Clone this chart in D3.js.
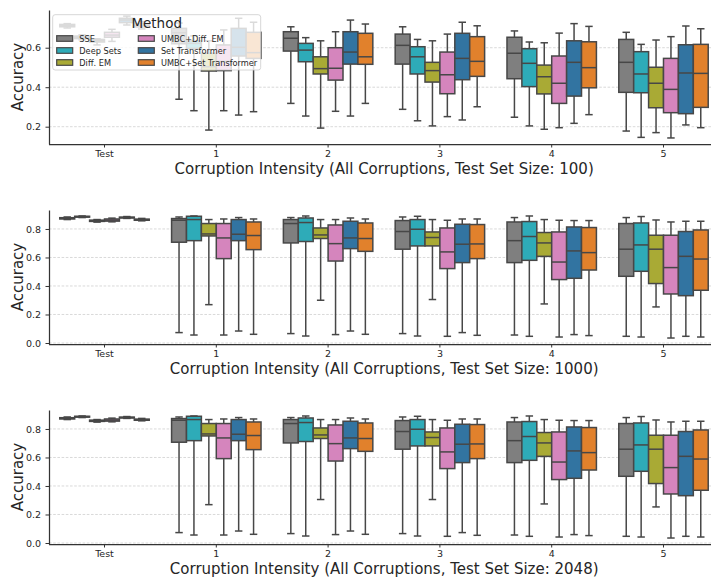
<!DOCTYPE html>
<html>
<head>
<meta charset="utf-8">
<script src="https://cdn.jsdelivr.net/npm/d3@7"></script>
<style>
  html, body { margin: 0; padding: 0; background: #fff; }
  svg { display: block; font-family: "DejaVu Sans", sans-serif; }
</style>
</head>
<body>
<svg id="chart" width="711" height="577"></svg>
<script>
// Categories on the x axis and the methods compared within each category
const categories = ["Test", "1", "2", "3", "4", "5"];
const methods = ["SSE", "Deep Sets", "Diff. EM", "UMBC+Diff. EM", "Set Transformer", "UMBC+Set Transformer"];
const baseColors = ["#7f7f7f", "#17becf", "#bcbd22", "#e377c2", "#1f77b4", "#ff7f0e"];
const testSetSizes = [100, 1000, 2048];
const yTicksSmall = [0.2, 0.4, 0.6];
const yTicksLarge = [0.0, 0.2, 0.4, 0.6, 0.8];

// Box statistics per category: [lower whisker, Q1, median, Q3, upper whisker]
// Test set size 100
const sse100 = [[0.700,0.706,0.712,0.718,0.722],[0.339,0.620,0.676,0.698,0.725],[0.318,0.583,0.648,0.681,0.706],[0.288,0.517,0.612,0.669,0.706],[0.248,0.443,0.572,0.653,0.685],[0.178,0.374,0.526,0.642,0.678]];
const deepSets100 = [[0.640,0.646,0.652,0.659,0.665],[0.281,0.597,0.622,0.635,0.660],[0.254,0.529,0.588,0.622,0.651],[0.230,0.467,0.554,0.605,0.642],[0.204,0.403,0.521,0.595,0.629],[0.146,0.372,0.467,0.580,0.617]];
const diffEM100 = [[0.614,0.629,0.636,0.642,0.645],[0.183,0.482,0.504,0.572,0.635],[0.193,0.467,0.494,0.554,0.635],[0.204,0.426,0.484,0.526,0.635],[0.187,0.366,0.453,0.512,0.625],[0.170,0.296,0.420,0.501,0.639]];
const umbcDiffEM100 = [[0.632,0.653,0.664,0.678,0.693],[0.281,0.484,0.530,0.614,0.690],[0.278,0.436,0.496,0.600,0.681],[0.251,0.367,0.463,0.578,0.669],[0.195,0.318,0.420,0.558,0.674],[0.143,0.271,0.389,0.546,0.656]];
const setTransformer100 = [[0.715,0.727,0.740,0.749,0.760],[0.259,0.558,0.602,0.698,0.749],[0.254,0.517,0.578,0.681,0.740],[0.234,0.438,0.546,0.673,0.729],[0.217,0.355,0.526,0.635,0.722],[0.209,0.266,0.472,0.615,0.710]];
const umbcSetTransformer100 = [[0.695,0.705,0.712,0.722,0.732],[0.276,0.546,0.575,0.678,0.729],[0.318,0.516,0.554,0.673,0.720],[0.301,0.455,0.531,0.656,0.711],[0.261,0.397,0.499,0.630,0.708],[0.195,0.298,0.470,0.617,0.696]];

// Test set size 1000
const sse1000 = [[0.866,0.870,0.875,0.879,0.884],[0.073,0.707,0.861,0.873,0.884],[0.066,0.702,0.838,0.866,0.880],[0.066,0.658,0.782,0.859,0.884],[0.056,0.564,0.718,0.849,0.880],[0.047,0.468,0.658,0.838,0.880]];
const deepSets1000 = [[0.880,0.883,0.886,0.889,0.891],[0.056,0.718,0.866,0.889,0.891],[0.049,0.712,0.845,0.877,0.891],[0.049,0.681,0.798,0.866,0.889],[0.047,0.580,0.747,0.852,0.891],[0.042,0.503,0.688,0.842,0.887]];
const diffEM1000 = [[0.848,0.853,0.857,0.862,0.866],[0.269,0.751,0.765,0.838,0.866],[0.300,0.733,0.758,0.807,0.866],[0.305,0.681,0.740,0.779,0.866],[0.274,0.608,0.702,0.775,0.866],[0.253,0.417,0.658,0.756,0.863]];
const umbcDiffEM1000 = [[0.850,0.855,0.862,0.870,0.876],[0.056,0.592,0.737,0.838,0.870],[0.059,0.575,0.697,0.828,0.866],[0.047,0.522,0.639,0.807,0.861],[0.042,0.445,0.568,0.779,0.861],[0.035,0.344,0.529,0.756,0.849]];
const setTransformer1000 = [[0.874,0.877,0.880,0.883,0.887],[0.084,0.718,0.763,0.866,0.880],[0.084,0.662,0.737,0.854,0.877],[0.073,0.564,0.693,0.833,0.870],[0.059,0.454,0.646,0.814,0.859],[0.047,0.332,0.608,0.782,0.854]];
const umbcSetTransformer1000 = [[0.857,0.861,0.865,0.869,0.874],[0.061,0.655,0.754,0.849,0.870],[0.061,0.643,0.733,0.842,0.870],[0.054,0.592,0.695,0.831,0.870],[0.052,0.512,0.634,0.810,0.859],[0.042,0.370,0.589,0.793,0.854]];

// Test set size 2048
const sse2048 = [[0.866,0.870,0.875,0.879,0.884],[0.073,0.707,0.861,0.873,0.884],[0.066,0.702,0.838,0.866,0.880],[0.066,0.658,0.782,0.859,0.884],[0.056,0.564,0.718,0.849,0.880],[0.047,0.468,0.658,0.838,0.880]];
const deepSets2048 = [[0.880,0.883,0.886,0.889,0.891],[0.056,0.718,0.866,0.889,0.891],[0.049,0.712,0.845,0.877,0.891],[0.049,0.681,0.798,0.866,0.889],[0.047,0.580,0.747,0.852,0.891],[0.042,0.503,0.688,0.842,0.887]];
const diffEM2048 = [[0.848,0.853,0.857,0.862,0.866],[0.269,0.751,0.765,0.838,0.866],[0.305,0.733,0.758,0.807,0.866],[0.305,0.681,0.740,0.779,0.866],[0.274,0.608,0.702,0.775,0.866],[0.253,0.417,0.658,0.756,0.863]];
const umbcDiffEM2048 = [[0.850,0.855,0.862,0.870,0.876],[0.056,0.592,0.737,0.838,0.870],[0.059,0.575,0.697,0.828,0.866],[0.047,0.522,0.639,0.807,0.861],[0.042,0.445,0.568,0.779,0.861],[0.035,0.344,0.529,0.756,0.849]];
const setTransformer2048 = [[0.874,0.877,0.880,0.883,0.887],[0.084,0.718,0.763,0.866,0.880],[0.084,0.662,0.737,0.854,0.877],[0.073,0.564,0.693,0.833,0.870],[0.059,0.454,0.646,0.814,0.859],[0.047,0.332,0.608,0.782,0.854]];
const umbcSetTransformer2048 = [[0.857,0.861,0.865,0.869,0.874],[0.061,0.655,0.754,0.849,0.870],[0.061,0.643,0.733,0.842,0.870],[0.054,0.592,0.695,0.831,0.870],[0.052,0.512,0.634,0.810,0.859],[0.042,0.370,0.589,0.793,0.854]];

const panelData = [
  [sse100, deepSets100, diffEM100, umbcDiffEM100, setTransformer100, umbcSetTransformer100],
  [sse1000, deepSets1000, diffEM1000, umbcDiffEM1000, setTransformer1000, umbcSetTransformer1000],
  [sse2048, deepSets2048, diffEM2048, umbcDiffEM2048, setTransformer2048, umbcSetTransformer2048]
];

// Layout of the three stacked panels
const panels = [
  { top: 10,  bottom: 144, domain: [0.1124, 0.791], ticks: yTicksSmall },
  { top: 210, bottom: 344, domain: [-0.007, 0.933], ticks: yTicksLarge },
  { top: 410, bottom: 544, domain: [-0.007, 0.933], ticks: yTicksLarge }
];
const left = 49, right = 719.4;
const lineColor = "#474747";
const textColor = "#262626";

// Muted box fills (saturation reduced to 75%)
const fills = baseColors.map(c => { const h = d3.hsl(c); h.s *= 0.75; return h.formatHex(); });

const svg = d3.select("#chart");
const x = d3.scaleBand().domain(categories).range([48.6, right]).paddingInner(0).paddingOuter(0);
const hue = d3.scaleBand().domain(methods).range([0, x.bandwidth() * 0.8]).padding(0);

panels.forEach((p, pi) => {
  const y = d3.scaleLinear().domain(p.domain).range([p.bottom, p.top]);
  const g = svg.append("g");

  // Horizontal dashed grid
  g.append("g").selectAll("line").data(p.ticks).join("line")
    .attr("x1", left).attr("x2", 711)
    .attr("y1", d => y(d)).attr("y2", d => y(d))
    .attr("stroke", "#cfcfcf").attr("stroke-width", 0.8)
    .attr("stroke-dasharray", "2.6,1.6");

  // Boxes
  const data = panelData[pi];
  methods.forEach((m, mi) => {
    data[mi].forEach((s, ci) => {
      const [lo, q1, med, q3, hi] = s;
      const bx = x(categories[ci]) + x.bandwidth() * 0.1 + hue(m);
      const bw = hue.bandwidth();
      const cx = bx + bw / 2;
      const bg = g.append("g");
      bg.append("line").attr("x1", cx).attr("x2", cx).attr("y1", y(q3)).attr("y2", y(hi))
        .attr("stroke", lineColor).attr("stroke-width", 1.5);
      bg.append("line").attr("x1", cx).attr("x2", cx).attr("y1", y(q1)).attr("y2", y(lo))
        .attr("stroke", lineColor).attr("stroke-width", 1.5);
      [lo, hi].forEach(v => bg.append("line")
        .attr("x1", cx - bw / 4).attr("x2", cx + bw / 4).attr("y1", y(v)).attr("y2", y(v))
        .attr("stroke", lineColor).attr("stroke-width", 1.5));
      bg.append("rect").attr("x", bx).attr("width", bw)
        .attr("y", y(q3)).attr("height", Math.max(0.5, y(q1) - y(q3)))
        .attr("fill", fills[mi]).attr("stroke", lineColor).attr("stroke-width", 1.5);
      bg.append("line").attr("x1", bx).attr("x2", bx + bw).attr("y1", y(med)).attr("y2", y(med))
        .attr("stroke", lineColor).attr("stroke-width", 1.5);
    });
  });

  // Axes
  const yAxis = g.append("g").attr("transform", `translate(${left},0)`)
    .call(d3.axisLeft(y).tickValues(p.ticks).tickFormat(d3.format(".1f")).tickSize(3.5).tickSizeOuter(0).tickPadding(4.5));
  const xAxis = g.append("g").attr("transform", `translate(0,${p.bottom})`)
    .call(d3.axisBottom(x).tickSize(3.5).tickSizeOuter(0).tickPadding(3));
  xAxis.select(".domain").attr("d", `M${left},0.5H${right}`);
  [yAxis, xAxis].forEach(a => {
    a.select(".domain").attr("stroke", "#333").attr("stroke-width", 1.25);
    a.selectAll(".tick line").attr("stroke", "#333").attr("stroke-width", 1);
    a.selectAll(".tick text").attr("fill", textColor).style("font-size", "9.5px")
      .style("font-family", "DejaVu Sans");
  });

  // Axis titles
  g.append("text").attr("x", (left + right) / 2).attr("y", p.bottom + 29.5)
    .attr("text-anchor", "middle").attr("fill", textColor).style("font-size", "15px")
    .text(`Corruption Intensity (All Corruptions, Test Set Size: ${testSetSizes[pi]})`);
  g.append("text").attr("transform", `translate(22.5,${(p.top + p.bottom) / 2}) rotate(-90)`)
    .attr("text-anchor", "middle").attr("fill", textColor).style("font-size", "15px")
    .text("Accuracy");
});

// Legend
const lg = svg.append("g");
lg.append("rect").attr("x", 52.7).attr("y", 14.7).attr("width", 208).attr("height", 55.3).attr("rx", 2.5)
  .attr("fill", "#fff").attr("fill-opacity", 0.8).attr("stroke", "#cccccc").attr("stroke-width", 0.8);
lg.append("text").attr("x", 156.7).attr("y", 28.2).attr("text-anchor", "middle")
  .attr("fill", textColor).style("font-size", "13.5px").text("Method");
methods.forEach((m, i) => {
  const col = Math.floor(i / 3), row = i % 3;
  const px = col === 0 ? 56.7 : 138.3;
  const cy = 38.5 + row * 12;
  lg.append("rect").attr("x", px).attr("y", cy - 2.8).attr("width", 16).attr("height", 5.6)
    .attr("fill", fills[i]).attr("stroke", lineColor).attr("stroke-width", 1.2);
  lg.append("text").attr("x", px + 22.6).attr("y", cy + 3).attr("fill", textColor)
    .style("font-size", "8.2px").text(m);
});
</script>
</body>
</html>
